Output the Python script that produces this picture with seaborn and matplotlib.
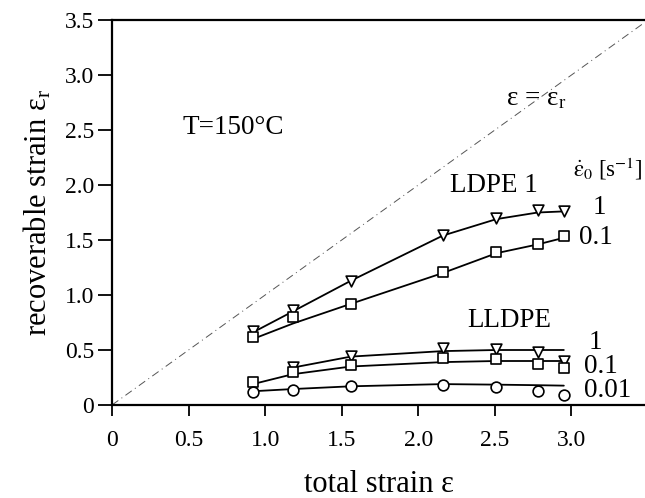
import numpy as np
import pandas as pd
import matplotlib
matplotlib.use("Agg")
import matplotlib.pyplot as plt
import seaborn as sns

# ---- data ----
strain = [0.92, 1.18, 1.56, 2.16, 2.51, 2.78, 2.95]

ldpe_1 = [0.675, 0.86, 1.13, 1.545, 1.70, 1.77, 1.76]
ldpe_1_fit = [0.66, 0.85, 1.13, 1.54, 1.69, 1.75, 1.76]
ldpe_01 = [0.615, 0.80, 0.915, 1.21, 1.39, 1.46, 1.535]
ldpe_01_fit = [0.60, 0.74, 0.92, 1.20, 1.38, 1.46, 1.52]

strain_ll1 = [1.18, 1.56, 2.16, 2.51, 2.78, 2.95]
lldpe_1 = [0.35, 0.45, 0.52, 0.51, 0.48, 0.40]
lldpe_1_fit = [0.34, 0.44, 0.49, 0.50, 0.50, 0.50]
lldpe_01 = [0.21, 0.30, 0.364, 0.426, 0.417, 0.376, 0.34]
lldpe_01_fit = [0.19, 0.28, 0.35, 0.39, 0.40, 0.40, 0.40]
lldpe_001 = [0.12, 0.136, 0.175, 0.18, 0.16, 0.13, 0.088]
lldpe_001_fit = [0.125, 0.145, 0.17, 0.19, 0.185, 0.18, 0.176]

diag = [0.0, 3.6]

xticks = [0, 0.5, 1.0, 1.5, 2.0, 2.5, 3.0]
xticklabels = ["0", "0.5", "1.0", "1.5", "2.0", "2.5", "3.0"]
yticks = [0, 0.5, 1.0, 1.5, 2.0, 2.5, 3.0, 3.5]
yticklabels = ["0", "0.5", "1.0", "1.5", "2.0", "2.5", "3.0", "3.5"]

# ---- style ----
sns.set_theme(style="white")
plt.rcParams["font.family"] = ["Liberation Serif", "DejaVu Serif"]
plt.rcParams["mathtext.fontset"] = "stix"

fig = plt.figure(figsize=(6.45, 4.98), dpi=100)
ax = fig.add_axes([112 / 645, 93 / 498, 533 / 645, 385 / 498])

# diagonal eps = eps_r
dd = pd.DataFrame({"x": diag, "y": diag})
sns.lineplot(data=dd, x="x", y="y", ax=ax, color="#555555", lw=0.7,
             linestyle=(0, (8, 4, 1, 4)))

series = [
    (strain, ldpe_1, ldpe_1_fit, "v"),
    (strain, ldpe_01, ldpe_01_fit, "s"),
    (strain_ll1, lldpe_1, lldpe_1_fit, "v"),
    (strain, lldpe_01, lldpe_01_fit, "s"),
    (strain, lldpe_001, lldpe_001_fit, "o"),
]
for xs, ys, fit, mk in series:
    df = pd.DataFrame({"x": xs, "y": ys, "fit": fit})
    sns.lineplot(data=df, x="x", y="fit", ax=ax, color="black", lw=1.3)
    sns.scatterplot(data=df, x="x", y="y", ax=ax, marker=mk,
                    s=60 if mk != "s" else 52,
                    facecolor="white", edgecolor="black", linewidth=1.2,
                    zorder=5)

ax.set_xlim(0, 3.48)
ax.set_ylim(0, 3.5)
ax.set_xticks(xticks)
ax.set_xticklabels(xticklabels)
ax.set_yticks(yticks)
ax.set_yticklabels(yticklabels)

for s in ["left", "top", "bottom"]:
    ax.spines[s].set_visible(True)
    ax.spines[s].set_color("black")
    ax.spines[s].set_linewidth(1.6)
ax.spines["right"].set_visible(False)

ax.tick_params(axis="both", direction="out", colors="black", labelsize=17,
               width=1.3, left=True, bottom=True)
ax.tick_params(axis="y", length=10, pad=3)
ax.tick_params(axis="x", length=8, pad=10)

ax.set_xlabel("total strain ε", fontsize=22, labelpad=14, color="black")
ax.set_ylabel(r"recoverable strain ε$_\mathregular{r}$", fontsize=22,
              labelpad=8, color="black")

tk = dict(fontsize=19.5, color="black", va="center")
ax.text(0.46, 2.52, "T=150°C", ha="left", **tk)
ax.text(2.57, 2.78, r"ε = ε$_\mathregular{r}$", ha="left", **tk)
ax.text(3.01, 2.15, r"$\dot{\mathrm{\varepsilon}}_\mathrm{0}$ [s$^\mathrm{-1}$]",
        ha="left", fontsize=16.5, color="black", va="center")
ax.text(2.21, 2.0, "LDPE 1", ha="left", **tk)
ax.text(3.14, 1.80, "1", ha="left", **tk)
ax.text(3.05, 1.52, "0.1", ha="left", **tk)
ax.text(2.32, 0.77, "LLDPE", ha="left", **tk)
ax.text(3.11, 0.57, "1", ha="left", **tk)
ax.text(3.08, 0.35, "0.1", ha="left", **tk)
ax.text(3.08, 0.13, "0.01", ha="left", **tk)

fig.savefig("out.png", dpi=100)
